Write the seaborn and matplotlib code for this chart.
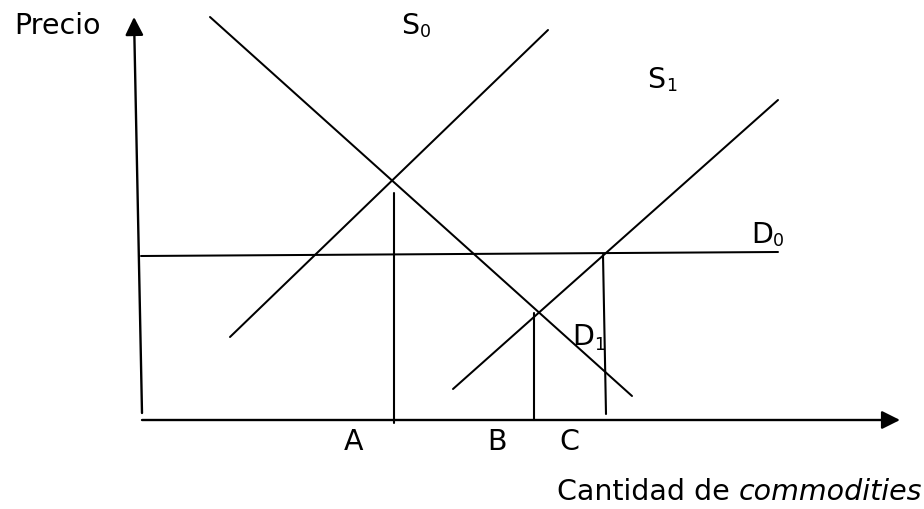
import matplotlib
matplotlib.use("Agg")
import matplotlib.pyplot as plt
import seaborn as sns
import pandas as pd

sns.set_theme(style="white")
plt.rcParams["font.family"] = ["DejaVu Sans"]

# ---- diagram data (quantity, price), origin at the axes corner ----
curve_names = ["D1", "S0", "S1", "D0"]
curve_q = [[68, 490], [88, 406], [311, 636], [-1, 636]]
curve_p = [[403, 24], [83, 390], [31, 320], [164, 168]]

# vertical reference lines down to the quantity axis (A, B, C)
vline_names = ["A", "B", "C"]
vline_q = [[252, 252], [392, 392], [461, 464]]
vline_p = [[227, -3], [107, 0], [165, 6]]

# axes (start, arrow tip)
yaxis_q = [0, -8]
yaxis_p = [7, 403]
xaxis_q = [0, 758]
xaxis_p = [0, 0]

# labels: (main text, subscript, q, p)
curve_labels = ["S", "S", "D", "D"]
curve_subs = ["0", "1", "0", "1"]
curve_label_q = [259, 505, 609, 430]
curve_label_p = [386, 332, 177, 75]
sub_dq = [19, 19, 22, 22]
sub_dp = [-3, -3, -3, -5]

tick_labels = ["A", "B", "C"]
tick_label_q = [202, 345, 417]
tick_label_p = -30

ylabel_text = "Precio"
xlabel_text_a = "Cantidad de "
xlabel_text_b = "commodities"

FS = 20.5
SUB_FS = 12.5

rows = []
for name, qs, ps in zip(curve_names, curve_q, curve_p):
    for q, p in zip(qs, ps):
        rows.append({"line": name, "q": q, "p": p})
curves = pd.DataFrame(rows)

rows = []
for name, qs, ps in zip(vline_names, vline_q, vline_p):
    for q, p in zip(qs, ps):
        rows.append({"line": name, "q": q, "p": p})
vlines = pd.DataFrame(rows)

fig = plt.figure(figsize=(9.24, 5.09), dpi=100)
ax = fig.add_axes([0, 0, 1, 1])
ax.set_xlim(-142, 782)
ax.set_ylim(-89, 420)
ax.axis("off")

sns.lineplot(data=curves, x="q", y="p", units="line", estimator=None,
             sort=False, color="black", linewidth=1.45, ax=ax, legend=False)
sns.lineplot(data=vlines, x="q", y="p", units="line", estimator=None,
             sort=False, color="black", linewidth=1.5, ax=ax, legend=False)

arrow = dict(arrowstyle="-|>,head_length=1.1,head_width=0.55", lw=1.7,
             color="black", shrinkA=0, shrinkB=0, mutation_scale=10)
ax.annotate("", xy=(yaxis_q[1], yaxis_p[1]), xytext=(yaxis_q[0], yaxis_p[0]),
            arrowprops=arrow)
ax.annotate("", xy=(xaxis_q[1], xaxis_p[1]), xytext=(xaxis_q[0], xaxis_p[0]),
            arrowprops=arrow)

for t, s, q, p, dq, dp in zip(curve_labels, curve_subs, curve_label_q,
                              curve_label_p, sub_dq, sub_dp):
    ax.text(q, p, t, fontsize=FS, ha="left", va="baseline", color="black")
    ax.text(q + dq, p + dp, s, fontsize=SUB_FS, ha="left", va="baseline",
            color="black")

for t, q in zip(tick_labels, tick_label_q):
    ax.text(q, tick_label_p, t, fontsize=FS, ha="left", va="baseline",
            color="black")

ax.text(-128, 386, ylabel_text, fontsize=FS, ha="left", va="baseline",
        color="black")
tb = ax.text(780, -80, xlabel_text_b, fontsize=FS, style="italic",
             ha="right", va="baseline", color="black")
fig.canvas.draw()
bb = tb.get_window_extent().transformed(ax.transData.inverted())
ax.text(bb.x0, -80, xlabel_text_a, fontsize=FS, ha="right", va="baseline",
        color="black")

fig.savefig("out.png", dpi=100)
